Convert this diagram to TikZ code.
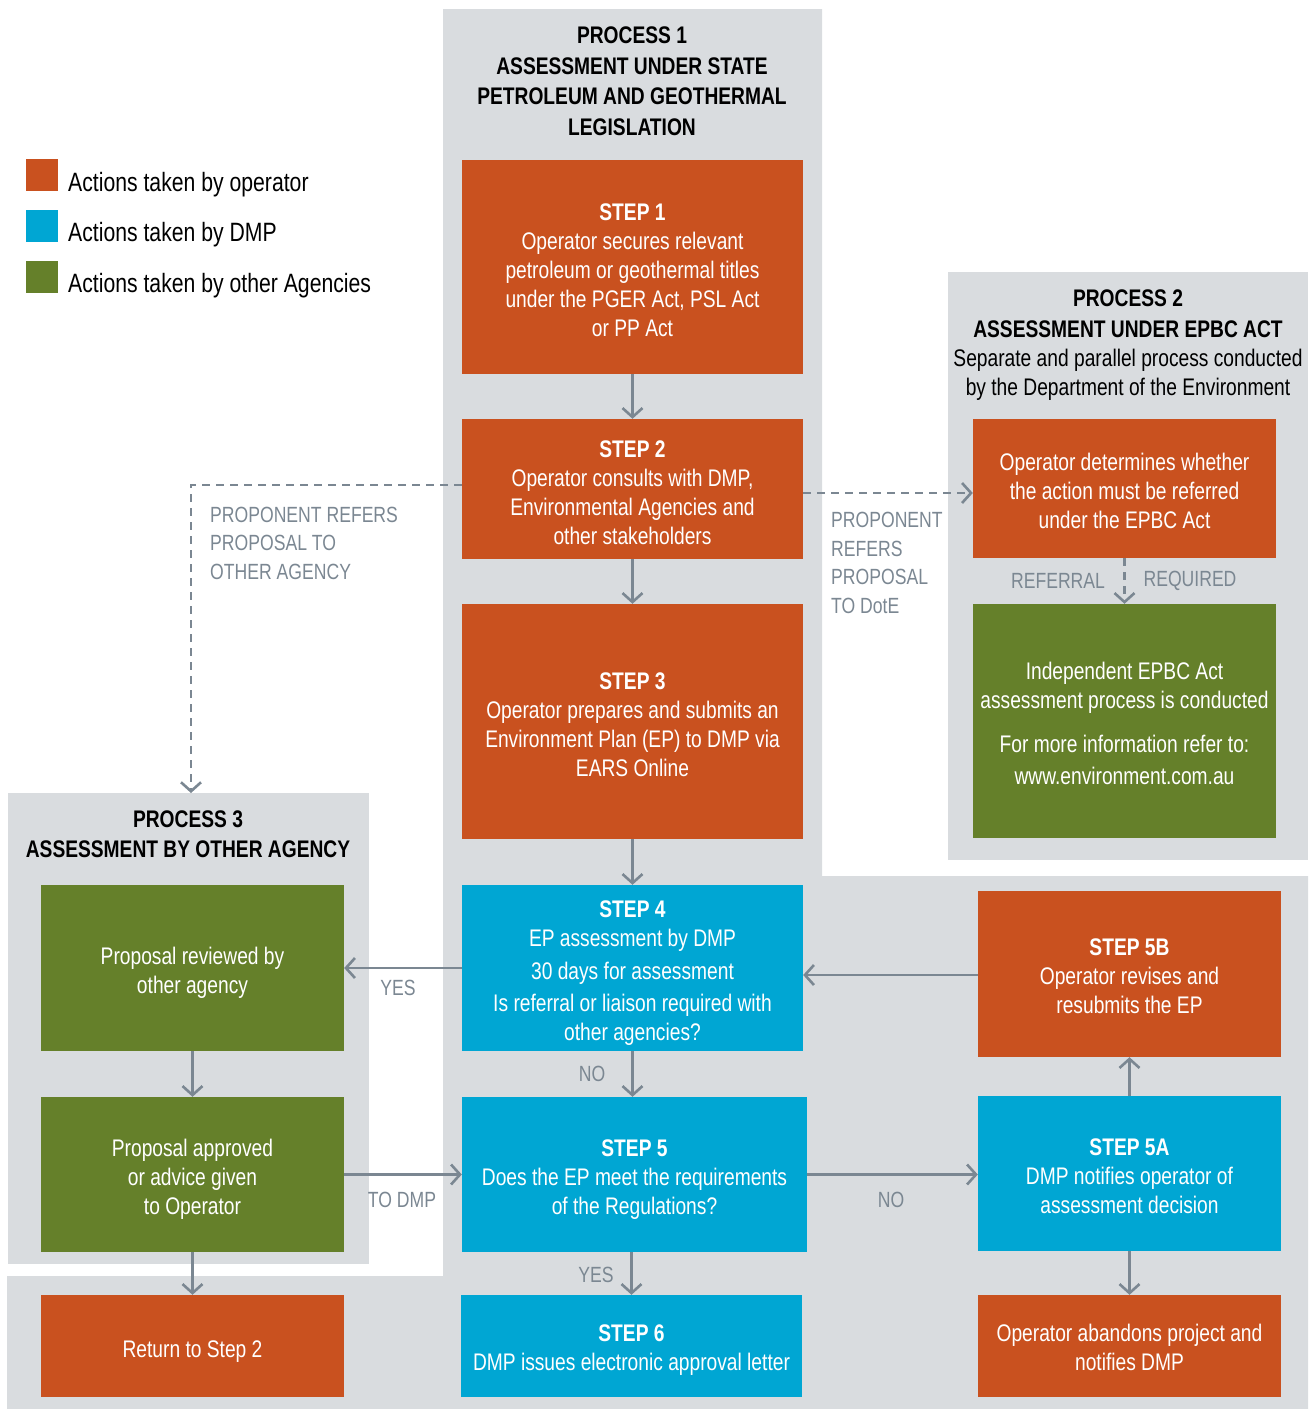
\documentclass[tikz,border=0pt]{standalone}
\usepackage{fontspec}
\setmainfont{Liberation Sans}[FakeStretch=0.8]
\usetikzlibrary{arrows.meta}
\definecolor{opc}{HTML}{C9511F}
\definecolor{dmpc}{HTML}{00A6D3}
\definecolor{agc}{HTML}{65802A}
\definecolor{bgc}{HTML}{D9DCDF}
\definecolor{arc}{HTML}{7B8792}
\begin{document}
\begin{tikzpicture}[x=1pt,y=-1pt,
  box/.style={rectangle, inner sep=0pt, text=white, align=center, font=\fontsize{24}{29}\selectfont},
  opbox/.style={box, fill=opc},
  dmpbox/.style={box, fill=dmpc},
  agbox/.style={box, fill=agc},
  arr/.style={draw=arc, line width=2.6pt, -{Straight Barb[length=9pt,width=20pt]}},
  dsh/.style={arr, dash pattern=on 8pt off 6pt},
  lbl/.style={text=arc, font=\fontsize{22}{28.5}\selectfont, inner sep=0pt},
  ttl/.style={font=\fontsize{24}{30.5}\selectfont, align=center, inner sep=0pt},
  legsq/.style={rectangle, inner sep=0pt, minimum width=32pt, minimum height=32pt},
  legtx/.style={anchor=west, inner sep=0pt, font=\fontsize{26.5}{30}\selectfont}
]
\useasboundingbox (0,0) rectangle (1311,1409);
% backgrounds
\fill[bgc] (443,9) -- (822,9) -- (822,876) -- (1308,876) -- (1308,1409) -- (7,1409) -- (7,1276) -- (443,1276) -- cycle;
\fill[bgc] (948,272) rectangle (1308,860);
\fill[bgc] (8,793) rectangle (369,1264);

% legend
\node[legsq, fill=opc] (lg1) at (42,175) {};
\node[legsq, fill=dmpc] (lg2) at (42,226) {};
\node[legsq, fill=agc] (lg3) at (42,277) {};
\node[legtx] (lt1) at (68,185) {Actions taken by operator};
\node[legtx] (lt2) at (68,235) {Actions taken by DMP};
\node[legtx] (lt3) at (68,286) {Actions taken by other Agencies};

% titles
\node[ttl] (t1) at (632,81) {\bfseries PROCESS 1\\\bfseries ASSESSMENT UNDER STATE\\\bfseries PETROLEUM AND GEOTHERMAL\\\bfseries LEGISLATION};
\node[ttl] (t2) at (1128,345.5) {\bfseries PROCESS 2\\\bfseries ASSESSMENT UNDER EPBC ACT\\[-1.5pt]Separate and parallel process conducted\\[-1pt]by the Department of the Environment};
\node[ttl] (t3) at (188,834) {\bfseries PROCESS 3\\\bfseries ASSESSMENT BY OTHER AGENCY};

% process 1 steps
\node[opbox, minimum width=341pt, minimum height=214pt] (s1) at (632.5,267)
  {\rule{0pt}{24pt}{\bfseries STEP 1}\\Operator secures relevant\\petroleum or geothermal titles\\under the PGER Act, PSL Act\\or PP Act};
\node[opbox, minimum width=341pt, minimum height=140pt] (s2) at (632.5,489)
  {\rule{0pt}{24pt}{\bfseries STEP 2}\\Operator consults with DMP,\\Environmental Agencies and\\other stakeholders};
\node[opbox, minimum width=341pt, minimum height=235pt] (s3) at (632.5,721.5)
  {\rule{0pt}{24pt}{\bfseries STEP 3}\\Operator prepares and submits an\\Environment Plan (EP) to DMP via\\EARS Online};
\node[dmpbox, minimum width=341pt, minimum height=166pt] (s4) at (632.5,968)
  {\rule{0pt}{26pt}{\bfseries STEP 4}\\EP assessment by DMP\\[4pt]30 days for assessment\\[3pt]Is referral or liaison required with\\other agencies?};
\node[dmpbox, minimum width=345pt, minimum height=155pt] (s5) at (634.5,1174.5)
  {\rule{0pt}{26pt}{\bfseries STEP 5}\\Does the EP meet the requirements\\of the Regulations?};
\node[dmpbox, minimum width=341pt, minimum height=102pt] (s6) at (631.5,1346)
  {\rule{0pt}{25pt}{\bfseries STEP 6}\\DMP issues electronic approval letter};

% right column
\node[opbox, minimum width=303pt, minimum height=166pt] (s5b) at (1129.5,974)
  {\rule{0pt}{21pt}{\bfseries STEP 5B}\\Operator revises and\\resubmits the EP};
\node[dmpbox, minimum width=303pt, minimum height=155pt] (s5a) at (1129.5,1173.5)
  {\rule{0pt}{23pt}{\bfseries STEP 5A}\\DMP notifies operator of\\assessment decision};
\node[opbox, minimum width=303pt, minimum height=102pt] (ab) at (1129.5,1346)
  {\rule{0pt}{21pt}Operator abandons project and\\notifies DMP};

% process 3
\node[agbox, minimum width=303pt, minimum height=166pt] (p3a) at (192.5,968)
  {\rule{0pt}{26pt}Proposal reviewed by\\other agency};
\node[agbox, minimum width=303pt, minimum height=155pt] (p3b) at (192.5,1174.5)
  {\rule{0pt}{26pt}Proposal approved\\or advice given\\to Operator};
\node[opbox, minimum width=303pt, minimum height=102pt] (ret) at (192.5,1346)
  {\rule{0pt}{27pt}Return to Step 2};

% process 2
\node[opbox, minimum width=303pt, minimum height=139pt] (p2a) at (1124.5,488.5)
  {\rule{0pt}{22pt}Operator determines whether\\the action must be referred\\under the EPBC Act};
\node[agbox, minimum width=303pt, minimum height=234pt] (p2b) at (1124.5,721)
  {\rule{0pt}{22pt}Independent EPBC Act\\assessment process is conducted\\[15pt]For more information refer to:\\[3pt]www.environment.com.au};

% connectors
\draw[arr] (s1) -- (s2);
\draw[arr] (s2) -- (s3);
\draw[arr] (s3) -- (s4);
\draw[arr] (s4.south) -- (s4.south |- s5.north);
\draw[arr] (s6.north |- s5.south) -- (s6.north);
\draw[arr] (s4.west) -- (p3a.east);
\draw[arr] (p3a) -- (p3b);
\draw[arr] (p3b) -- (ret);
\draw[arr] (p3b.east) -- (s5.west);
\draw[arr] (s5.east) -- (s5.east -| s5a.west);
\draw[arr] (s5a) -- (s5b);
\draw[arr] ([yshift=-1pt]s5b.west) -- ([yshift=-1pt]s5b.west -| s4.east);
\draw[arr] (s5a) -- (ab);
\coordinate (p3top) at (191,793);
\draw[dsh] ([yshift=4pt]s2.west) -| (p3top);
\draw[dsh] ([yshift=-4pt]s2.east) -- ([yshift=-4pt]s2.east -| p2a.west);
\draw[dsh] (p2a) -- (p2b);

% labels
\node[lbl] (l1) at (592,1074) {NO};
\node[lbl] (l2) at (596,1275) {YES};
\node[lbl] (l3) at (398,988) {YES};
\node[lbl] (l4) at (402,1200) {TO DMP};
\node[lbl] (l5) at (891,1200) {NO};
\node[lbl] (l6) at (1058,581) {REFERRAL};
\node[lbl] (l7) at (1190,581) {REQUIRED};
\node[lbl, anchor=west, align=left] (l8) at (210,543) {PROPONENT REFERS\\PROPOSAL TO\\OTHER AGENCY};
\node[lbl, anchor=west, align=left] (l9) at (831,563) {PROPONENT\\REFERS\\PROPOSAL\\TO DotE};
\end{tikzpicture}
\end{document}
